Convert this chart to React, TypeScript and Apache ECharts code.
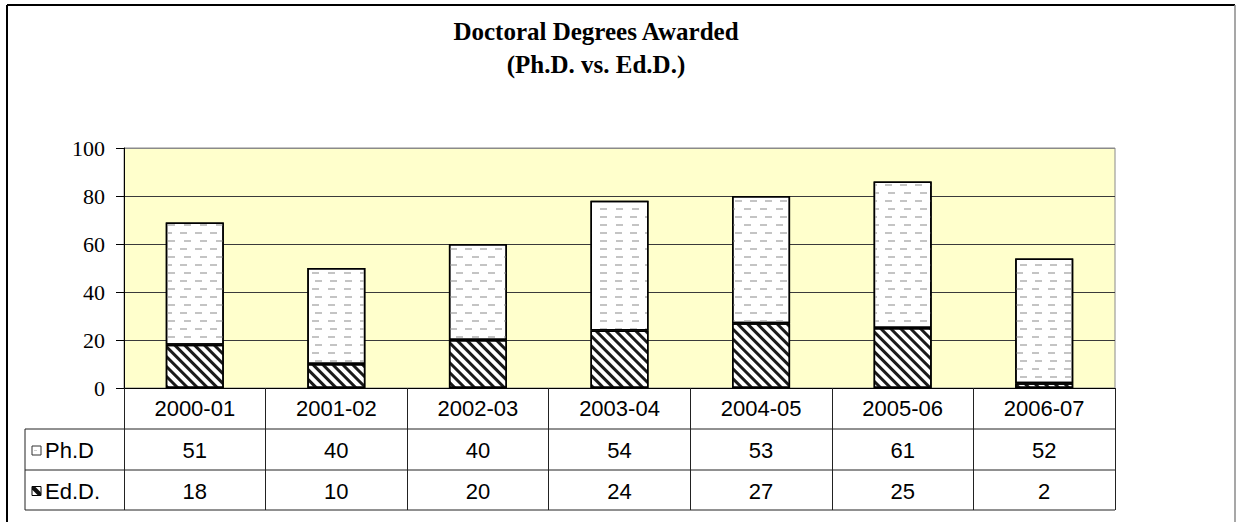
import React, { useEffect, useRef } from 'react';
import * as echarts from 'echarts';

const categories = ['2000-01', '2001-02', '2002-03', '2003-04', '2004-05', '2005-06', '2006-07'];
const phdValues = [51, 40, 40, 54, 53, 61, 52];
const eddValues = [18, 10, 20, 24, 27, 25, 2];
const seriesNames = ['Ph.D', 'Ed.D.'];
const titleLines = ['Doctoral Degrees Awarded', '(Ph.D. vs. Ed.D.)'];
const yMin = 0;
const yMax = 100;
const yStep = 20;

const GRID_LEFT = 124;
const GRID_TOP = 148;
const GRID_WIDTH = 991;
const GRID_HEIGHT = 240;
const TABLE_LEFT = 25;
const ROW_H = [41, 41, 40];
const SERIF = 'Liberation Serif';
const SANS = 'Liberation Sans';

const phdDecal = {
  symbol: 'rect',
  symbolSize: 1,
  color: '#c4c4c4',
  dashArrayX: [[7, 8], [0, 7.5, 7, 0.5]],
  dashArrayY: [1.5, 6],
  rotation: 0,
};
const eddDecal = {
  symbol: 'rect',
  symbolSize: 1,
  color: '#1a1a1a',
  dashArrayX: [1, 0],
  dashArrayY: [2.6, 3.1],
  rotation: Math.PI / 4,
};

export default function App() {
  const ref = useRef<HTMLDivElement>(null);
  useEffect(() => {
    if (!ref.current) return;
    const chart = echarts.init(ref.current, null, { renderer: 'svg' });
    const splitColors = [];
    for (let v = yMin; v <= yMax; v += yStep) splitColors.push(v === yMax ? '#8a8a8a' : '#3a3a3a');
    chart.setOption({
      animation: false,
      backgroundColor: '#ffffff',
      title: {
        text: titleLines.join('\n'),
        left: 596,
        top: 15,
        textAlign: 'center',
        padding: 0,
        textStyle: { fontFamily: SERIF, fontWeight: 'bold', fontSize: 25, lineHeight: 33, color: '#000' },
      },
      grid: {
        left: GRID_LEFT,
        top: GRID_TOP,
        width: GRID_WIDTH,
        height: GRID_HEIGHT,
        show: true,
        backgroundColor: '#FFFFCC',
        borderColor: '#8a8a8a',
        borderWidth: 1,
        containLabel: false,
      },
      xAxis: {
        type: 'category',
        data: categories,
        boundaryGap: true,
        axisLine: { show: true, lineStyle: { color: '#000', width: 1 } },
        axisTick: { show: true, length: ROW_H[0] + ROW_H[1] + ROW_H[2], interval: 0, alignWithLabel: false, lineStyle: { color: '#222', width: 1 } },
        axisLabel: { interval: 0, margin: 9, fontFamily: SANS, fontSize: 22, color: '#000' },
        splitLine: { show: false },
      },
      yAxis: {
        type: 'value',
        min: yMin,
        max: yMax,
        interval: yStep,
        axisLine: { show: true, lineStyle: { color: '#000', width: 1 } },
        axisTick: { show: true, length: 8, lineStyle: { color: '#000' } },
        axisLabel: { margin: 19, fontFamily: SERIF, fontSize: 22, color: '#000' },
        splitLine: { show: true, lineStyle: { color: splitColors, width: 1 } },
      },
      series: [
        {
          name: seriesNames[1],
          type: 'bar',
          stack: 'total',
          data: eddValues,
          barWidth: '41%',
          itemStyle: { color: '#ffffff', borderColor: '#000', borderWidth: 1.5, decal: eddDecal },
        },
        {
          name: seriesNames[0],
          type: 'bar',
          stack: 'total',
          data: phdValues,
          barWidth: '41%',
          itemStyle: { color: '#ffffff', borderColor: '#000', borderWidth: 1.5, decal: phdDecal },
        },
      ],
    });

    const yBase = chart.convertToPixel({ yAxisIndex: 0 }, yMin) as number;
    const right = GRID_LEFT + GRID_WIDTH;
    const r1 = yBase + ROW_H[0];
    const r2 = r1 + ROW_H[1];
    const r3 = r2 + ROW_H[2];
    const graphics: any[] = [];
    graphics.push({ type: 'line', shape: { x1: 7, y1: 5, x2: 1235, y2: 5 }, style: { stroke: '#000', lineWidth: 2 } });
    graphics.push({ type: 'line', shape: { x1: 7, y1: 5, x2: 7, y2: 530 }, style: { stroke: '#000', lineWidth: 2 } });
    graphics.push({ type: 'line', shape: { x1: 1235, y1: 5, x2: 1235, y2: 530 }, style: { stroke: '#8a8a8a', lineWidth: 1.5 } });
    [r1, r2, r3].forEach((y) => {
      graphics.push({ type: 'line', shape: { x1: TABLE_LEFT, y1: y, x2: right, y2: y }, style: { stroke: '#222', lineWidth: 1 } });
    });
    graphics.push({ type: 'line', shape: { x1: TABLE_LEFT, y1: r1, x2: TABLE_LEFT, y2: r3 }, style: { stroke: '#222', lineWidth: 1 } });
    const rows = [
      { name: seriesNames[0], values: phdValues, yc: (r1 + r2) / 2 },
      { name: seriesNames[1], values: eddValues, yc: (r2 + r3) / 2 },
    ];
    rows.forEach((row, ri) => {
      const kx = 32;
      const ks = 9;
      const ky = row.yc - ks / 2 + 1;
      graphics.push({ type: 'rect', shape: { x: kx, y: ky, width: ks, height: ks }, style: { fill: '#fff', stroke: ri === 0 ? '#333' : '#000', lineWidth: 1 } });
      if (ri === 1) {
        graphics.push({ type: 'polygon', shape: { points: [[kx, ky], [kx + 3, ky], [kx + ks, ky + ks - 3], [kx + ks, ky + ks], [kx + ks - 3, ky + ks], [kx, ky + 3]] }, style: { fill: '#111' } });
      } else {
        graphics.push({ type: 'line', shape: { x1: kx + 2, y1: ky + ks / 2, x2: kx + 5, y2: ky + ks / 2 }, style: { stroke: '#ccc', lineWidth: 1 } });
      }
      graphics.push({ type: 'text', x: 45, y: row.yc + 1, style: { text: row.name, fontFamily: SANS, fontSize: 22, fill: '#000', textAlign: 'left', textVerticalAlign: 'middle' } });
      row.values.forEach((v, i) => {
        const cx = chart.convertToPixel({ xAxisIndex: 0 }, categories[i]) as number;
        graphics.push({ type: 'text', x: cx, y: row.yc + 1, style: { text: String(v), fontFamily: SANS, fontSize: 22, fill: '#000', textAlign: 'center', textVerticalAlign: 'middle' } });
      });
    });
    chart.setOption({ graphic: graphics });
    return () => chart.dispose();
  }, []);
  return <div ref={ref} style={{ position: 'fixed', left: 0, top: 0, width: 1236, height: 522 }} />;
}
